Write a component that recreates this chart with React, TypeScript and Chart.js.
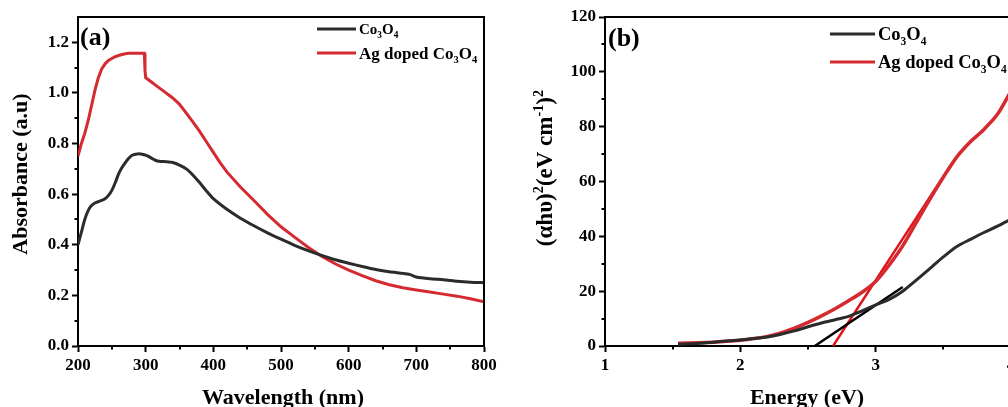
import { useEffect, useRef } from 'react';
import { Chart, registerables } from 'chart.js';

Chart.register(...registerables);

const FONT = '"Liberation Serif", "Times New Roman", serif';

// ---------- Panel (a): UV-Vis absorbance ----------
const waveCo: number[] = [200, 205, 210, 215, 220, 225, 230, 235, 240, 245, 250, 255, 260, 265, 270, 275, 280, 285, 290, 295, 300, 305, 310, 315, 320, 330, 340, 350, 360, 370, 380, 390, 400, 420, 440, 460, 480, 500, 520, 540, 560, 580, 600, 620, 640, 660, 680, 690, 700, 720, 740, 760, 780, 800];
const absCo: number[] = [0.40, 0.45, 0.50, 0.535, 0.555, 0.565, 0.57, 0.575, 0.582, 0.595, 0.615, 0.645, 0.68, 0.705, 0.725, 0.742, 0.754, 0.758, 0.760, 0.758, 0.754, 0.748, 0.740, 0.733, 0.730, 0.728, 0.725, 0.715, 0.700, 0.675, 0.645, 0.612, 0.582, 0.54, 0.505, 0.475, 0.447, 0.422, 0.398, 0.377, 0.358, 0.341, 0.327, 0.314, 0.302, 0.293, 0.287, 0.283, 0.273, 0.266, 0.262, 0.256, 0.252, 0.250];

const waveAg: number[] = [200, 205, 210, 215, 220, 225, 230, 235, 240, 245, 250, 255, 260, 265, 270, 275, 280, 285, 290, 295, 298, 299, 300, 305, 310, 315, 320, 325, 330, 335, 340, 345, 350, 355, 360, 370, 380, 390, 400, 410, 420, 440, 460, 480, 500, 520, 540, 560, 580, 600, 620, 640, 660, 680, 700, 720, 740, 760, 780, 800];
const absAg: number[] = [0.75, 0.80, 0.84, 0.89, 0.95, 1.01, 1.06, 1.095, 1.115, 1.128, 1.136, 1.143, 1.148, 1.152, 1.155, 1.157, 1.157, 1.157, 1.157, 1.157, 1.157, 1.09, 1.06, 1.05, 1.04, 1.03, 1.02, 1.01, 1.00, 0.99, 0.98, 0.968, 0.955, 0.938, 0.92, 0.885, 0.847, 0.806, 0.765, 0.725, 0.688, 0.628, 0.575, 0.52, 0.471, 0.43, 0.39, 0.355, 0.325, 0.30, 0.278, 0.258, 0.242, 0.23, 0.221, 0.213, 0.205, 0.197, 0.187, 0.175];

const waveTicks: number[] = [200, 300, 400, 500, 600, 700, 800];
const waveMinor: number[] = [250, 350, 450, 550, 650, 750];
const absTicks: number[] = [0, 0.2, 0.4, 0.6, 0.8, 1.0, 1.2];
const absMinor: number[] = [0.1, 0.3, 0.5, 0.7, 0.9, 1.1];

// ---------- Panel (b): Tauc plot ----------
const energy: number[] = [1.54, 1.7, 1.8, 1.9, 2.0, 2.1, 2.2, 2.3, 2.4, 2.5, 2.6, 2.7, 2.8, 2.9, 3.0, 3.1, 3.2, 3.3, 3.4, 3.5, 3.6, 3.7, 3.8, 3.9, 4.0];
const taucCo: number[] = [0.6, 1.0, 1.4, 1.8, 2.2, 2.7, 3.3, 4.3, 5.5, 7.0, 8.4, 9.6, 10.8, 12.8, 15.0, 17.0, 20.0, 24.0, 28.2, 32.5, 36.3, 38.9, 41.4, 43.7, 46.3];
const taucAg: number[] = [1.0, 1.2, 1.4, 1.7, 2.1, 2.7, 3.5, 4.8, 6.5, 8.6, 11.0, 13.6, 16.5, 19.6, 23.5, 29.5, 36.5, 45.0, 53.5, 61.5, 69.0, 74.5, 79.0, 84.5, 93.0];
const fitCoE: number[] = [2.55, 3.2];
const fitCoV: number[] = [0, 21.5];
const fitAgE: number[] = [2.685, 3.55];
const fitAgV: number[] = [0, 65.7];

const energyTicks: number[] = [1, 2, 3, 4];
const energyMinor: number[] = [1.5, 2.5, 3.5];
const taucTicks: number[] = [0, 20, 40, 60, 80, 100, 120];
const taucMinor: number[] = [10, 30, 50, 70, 90, 110];

const BLACK = '#2b2b2b';
const RED = '#d42a30';

type Seg = { t: string; size: number; dy: number };
const txt = (t: string, s: number): Seg => ({ t, size: s, dy: 0 });
const sub = (t: string, s: number): Seg => ({ t, size: s * 0.62, dy: s * 0.24 });
const sup = (t: string, s: number): Seg => ({ t, size: s * 0.62, dy: -s * 0.4 });
const coO = (s: number): Seg[] => [txt('Co', s), sub('3', s), txt('O', s), sub('4', s)];

function drawRich(ctx: CanvasRenderingContext2D, segs: Seg[], x: number, y: number, align: 'left' | 'center', rotate = false, base = 16) {
  ctx.save();
  ctx.translate(x, y);
  if (rotate) ctx.rotate(-Math.PI / 2);
  ctx.fillStyle = '#000';
  ctx.textAlign = 'left';
  ctx.textBaseline = 'alphabetic';
  let total = 0;
  const widths = segs.map((s) => {
    ctx.font = `bold ${s.size}px ${FONT}`;
    const w = ctx.measureText(s.t).width;
    total += w;
    return w;
  });
  let cx = align === 'center' ? -total / 2 : 0;
  const bl = base * 0.34;
  segs.forEach((s, i) => {
    ctx.font = `bold ${s.size}px ${FONT}`;
    ctx.fillText(s.t, cx, bl + s.dy);
    cx += widths[i];
  });
  ctx.restore();
}

type Decor = {
  xMinor: number[];
  yMinor: number[];
  legend: { x1: number; x2: number; y: number; color: string; segs: Seg[]; size: number }[];
  label: { t: string; x: number; y: number };
  xTitle: { segs: Seg[]; x: number; y: number };
  yTitle: { segs: Seg[]; x: number; y: number; size: number };
};

const decorPlugin = {
  id: 'decor',
  afterDraw(chart: any, _args: any, opts: Decor) {
    const ctx: CanvasRenderingContext2D = chart.ctx;
    const { left, right, top, bottom } = chart.chartArea;
    ctx.save();
    ctx.strokeStyle = '#000';
    ctx.lineWidth = 2;
    ctx.beginPath();
    ctx.moveTo(left, top);
    ctx.lineTo(right, top);
    ctx.lineTo(right, bottom);
    ctx.stroke();
    // minor ticks
    ctx.lineWidth = 2;
    const xs = chart.scales.x;
    const ys = chart.scales.y;
    ctx.beginPath();
    opts.xMinor.forEach((v) => {
      const p = Math.round(xs.getPixelForValue(v));
      ctx.moveTo(p, bottom);
      ctx.lineTo(p, bottom + 3.5);
    });
    opts.yMinor.forEach((v) => {
      const p = Math.round(ys.getPixelForValue(v));
      ctx.moveTo(left, p);
      ctx.lineTo(left - 3.5, p);
    });
    ctx.stroke();
    // legend
    opts.legend.forEach((e) => {
      ctx.strokeStyle = e.color;
      ctx.lineWidth = 3;
      ctx.beginPath();
      ctx.moveTo(e.x1, e.y);
      ctx.lineTo(e.x2, e.y);
      ctx.stroke();
      drawRich(ctx, e.segs, e.x2 + 3, e.y, 'left', false, e.size);
    });
    // panel label
    drawRich(ctx, [txt(opts.label.t, 26)], opts.label.x, opts.label.y, 'left', false, 26);
    drawRich(ctx, opts.xTitle.segs, opts.xTitle.x, opts.xTitle.y, 'center', false, 22);
    drawRich(ctx, opts.yTitle.segs, opts.yTitle.x, opts.yTitle.y, 'center', true, opts.yTitle.size);
    ctx.restore();
  },
};

const pts = (xs: number[], ys: number[]) => xs.map((x, i) => ({ x, y: ys[i] }));

function makeScales(xMin: number, xMax: number, xTicks: number[], yMin: number, yMax: number, yTicks: number[], yFmt: (v: number) => string) {
  const tickFont = { family: FONT, size: 17, weight: 'bold' as const };
  return {
    x: {
      type: 'linear' as const,
      min: xMin,
      max: xMax,
      afterFit: (s: any) => { s.height = 61; },
      afterBuildTicks: (s: any) => { s.ticks = xTicks.map((v) => ({ value: v })); },
      border: { display: true, color: '#000', width: 2 },
      grid: { drawOnChartArea: false, drawTicks: true, tickLength: 6, tickColor: '#000', tickWidth: 2 },
      ticks: { color: '#000', font: tickFont, padding: 3, maxRotation: 0, callback: (v: any) => String(v) },
    },
    y: {
      type: 'linear' as const,
      min: yMin,
      max: yMax,
      afterFit: (s: any) => { s.width = 78; },
      afterBuildTicks: (s: any) => { s.ticks = yTicks.map((v) => ({ value: v })); },
      border: { display: true, color: '#000', width: 2 },
      grid: { drawOnChartArea: false, drawTicks: true, tickLength: 6, tickColor: '#000', tickWidth: 2 },
      ticks: { color: '#000', font: tickFont, padding: 3, callback: (v: any) => yFmt(Number(v)) },
    },
  };
}

function PanelA() {
  const ref = useRef<HTMLCanvasElement>(null);
  useEffect(() => {
    const chart = new Chart(ref.current!, {
      type: 'line',
      data: {
        datasets: [
          { label: 'Co3O4', data: pts(waveCo, absCo), borderColor: BLACK, borderWidth: 3, pointRadius: 0, tension: 0.2 },
          { label: 'Ag doped Co3O4', data: pts(waveAg, absAg), borderColor: RED, borderWidth: 3, pointRadius: 0, tension: 0 },
        ],
      },
      options: {
        responsive: false,
        animation: false,
        parsing: false as any,
        layout: { padding: { top: 17, right: 16, left: 0, bottom: 0 } },
        plugins: {
          legend: { display: false },
          tooltip: { enabled: false },
          decor: {
            xMinor: waveMinor,
            yMinor: absMinor,
            legend: [
              { x1: 317, x2: 356, y: 29, color: BLACK, segs: coO(15), size: 15 },
              { x1: 317, x2: 356, y: 53, color: RED, segs: [txt('Ag doped ', 17), ...coO(17)], size: 17 },
            ],
            label: { t: '(a)', x: 80, y: 36 },
            xTitle: { segs: [txt('Wavelength (nm)', 22)], x: 283, y: 397 },
            yTitle: { segs: [txt('Absorbance (a.u)', 22)], x: 20, y: 174, size: 22 },
          },
        } as any,
        scales: makeScales(200, 800, waveTicks, 0, 1.3, absTicks, (v) => v.toFixed(1)) as any,
      },
      plugins: [decorPlugin],
    });
    return () => chart.destroy();
  }, []);
  return <canvas ref={ref} width={500} height={407} style={{ position: 'absolute', left: 0, top: 0 }} />;
}

function PanelB() {
  const ref = useRef<HTMLCanvasElement>(null);
  useEffect(() => {
    const chart = new Chart(ref.current!, {
      type: 'line',
      data: {
        datasets: [
          { label: 'Co3O4', data: pts(energy, taucCo), borderColor: BLACK, borderWidth: 3, pointRadius: 0, tension: 0.3 },
          { label: 'Ag doped Co3O4', data: pts(energy, taucAg), borderColor: RED, borderWidth: 3.5, pointRadius: 0, tension: 0.3 },
          { label: 'fit Co3O4', data: pts(fitCoE, fitCoV), borderColor: '#000', borderWidth: 2.5, pointRadius: 0 },
          { label: 'fit Ag', data: pts(fitAgE, fitAgV), borderColor: '#e0141a', borderWidth: 2.5, pointRadius: 0 },
        ],
      },
      options: {
        responsive: false,
        animation: false,
        parsing: false as any,
        layout: { padding: { top: 17, right: 16, left: 0, bottom: 0 } },
        plugins: {
          legend: { display: false },
          tooltip: { enabled: false },
          decor: {
            xMinor: energyMinor,
            yMinor: taucMinor,
            legend: [
              { x1: 303, x2: 348, y: 34, color: BLACK, segs: coO(18.5), size: 18.5 },
              { x1: 303, x2: 348, y: 62, color: RED, segs: [txt('Ag doped ', 18.5), ...coO(18.5)], size: 18.5 },
            ],
            label: { t: '(b)', x: 81, y: 37 },
            xTitle: { segs: [txt('Energy (eV)', 22)], x: 280, y: 397 },
            yTitle: {
              segs: [txt('(αhυ)', 23), sup('2', 23), txt('(eV cm', 23), sup('-1', 23), txt(')', 23), sup('2', 23)],
              x: 17,
              y: 168,
              size: 23,
            },
          },
        } as any,
        scales: makeScales(1, 4, energyTicks, 0, 120, taucTicks, (v) => String(v)) as any,
      },
      plugins: [decorPlugin],
    });
    return () => chart.destroy();
  }, []);
  return <canvas ref={ref} width={500} height={407} style={{ position: 'absolute', left: 527, top: 0 }} />;
}

export default function App() {
  return (
    <div style={{ position: 'absolute', left: 0, top: 0, width: 1008, height: 407, overflow: 'hidden', background: '#fff' }}>
      <PanelA />
      <PanelB />
    </div>
  );
}
